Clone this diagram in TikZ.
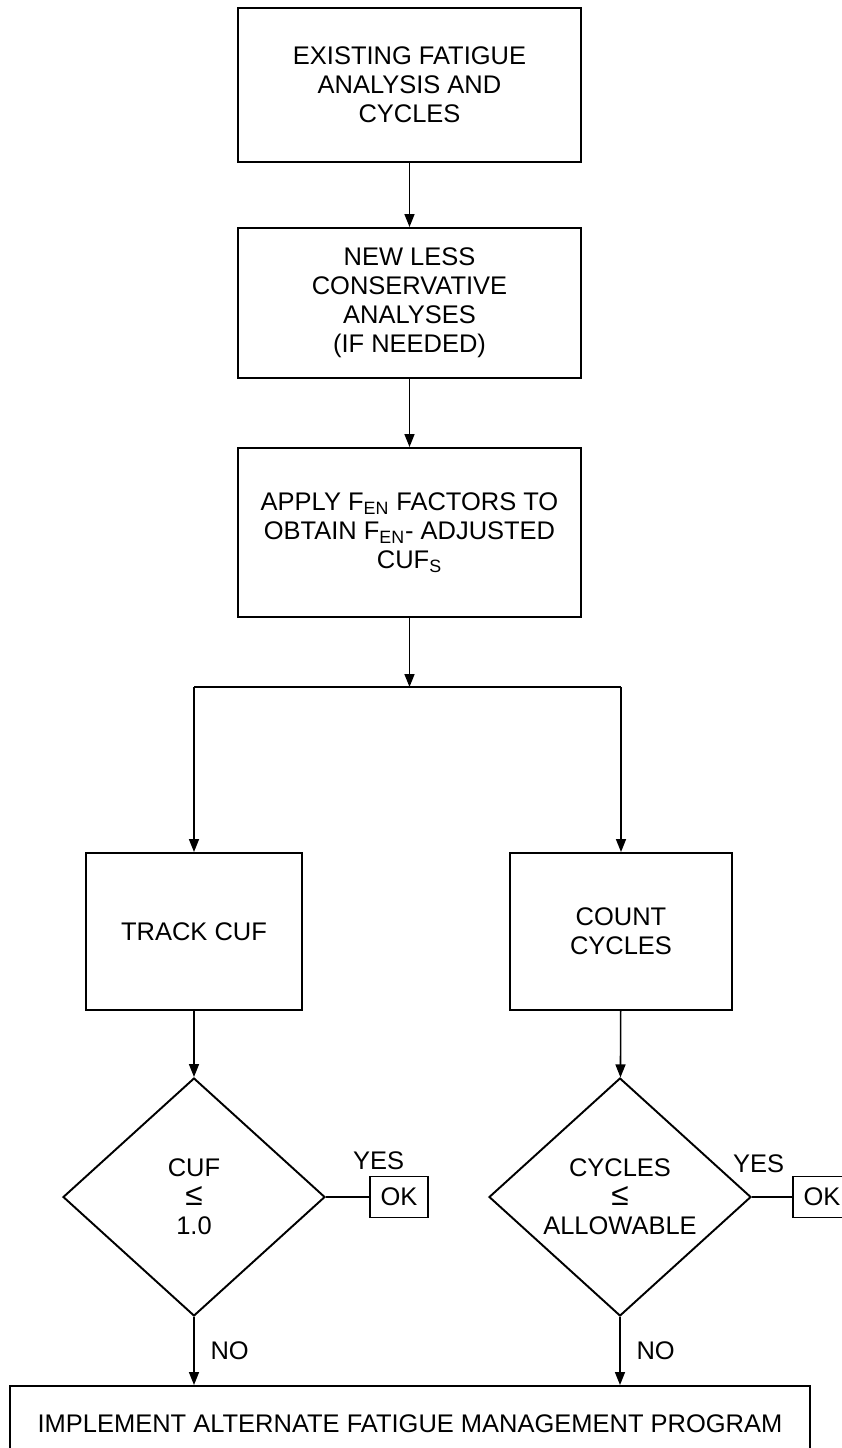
\documentclass[tikz,border=0pt]{standalone}
\usepackage{fontspec}
\setmainfont{Liberation Sans}
\usepackage{tikz}
\usetikzlibrary{positioning, arrows.meta, shapes.geometric}
\tikzset{
  pbox/.style={draw=black, line width=1.1pt, align=center, inner sep=2pt,
    font=\fontsize{14.5}{16.5}\selectfont},
  decbox/.style={diamond, draw=black, line width=1.1pt, align=center, inner sep=0pt,
    minimum width=5.24cm, minimum height=4.76cm, font=\fontsize{14.5}{16.5}\selectfont},
  okbox/.style={draw=black, line width=1.1pt, minimum width=1.16cm, minimum height=0.82cm,
    inner sep=0pt, font=\fontsize{14.5}{16.5}\selectfont},
  arr/.style={-{Triangle[length=0.26cm, width=0.2cm]}, line width=0.9pt},
  link/.style={line width=0.9pt},
  smalltxt/.style={font=\fontsize{14.5}{16.5}\selectfont, inner sep=1pt},
}
\newcommand{\smallle}{{\fontsize{18}{16.5}\selectfont ≤}}
\begin{document}
\begin{tikzpicture}
  \useasboundingbox (0,0) rectangle (16.84,-28.96);
  \node[pbox, minimum width=6.86cm, minimum height=3.08cm] (exist) at (8.19,-1.70)
    {EXISTING FATIGUE\\ANALYSIS AND\\CYCLES};
  \node[pbox, minimum width=6.86cm, minimum height=3.0cm] (newana) at (8.19,-6.06)
    {NEW LESS\\CONSERVATIVE\\ANALYSES\\(IF NEEDED)};
  \node[pbox, minimum width=6.86cm, minimum height=3.38cm] (apply) at (8.19,-10.65)
    {APPLY F\textsubscript{EN} FACTORS TO\\OBTAIN F\textsubscript{EN}- ADJUSTED\\CUF\textsubscript{S}};
  \coordinate (split) at (8.19,-13.74);
  \coordinate (splitL) at (3.88,-13.74);
  \coordinate (splitR) at (12.42,-13.74);
  \node[pbox, minimum width=4.32cm, minimum height=3.14cm] (track) at (3.88,-18.63) {TRACK CUF};
  \node[pbox, minimum width=4.44cm, minimum height=3.14cm] (count) at (12.42,-18.63) {COUNT\\CYCLES};
  \node[decbox] (cufdec) at (3.88,-23.94) {CUF\\\smallle\\1.0};
  \node[decbox] (cycdec) at (12.40,-23.94) {CYCLES\\\smallle\\ALLOWABLE};
  \node[okbox] (ok1) at (7.98,-23.94) {OK};
  \node[okbox] (ok2) at (16.44,-23.94) {OK};
  \node[pbox, minimum width=16.0cm, minimum height=1.52cm] (prog) at (8.20,-28.48)
    {IMPLEMENT ALTERNATE FATIGUE MANAGEMENT PROGRAM};

  \draw[arr] (exist) -- (newana);
  \draw[arr] (newana) -- (apply);
  \draw[arr] (apply) -- (split);
  \draw[link] (splitL) -- (splitR);
  \draw[arr] (splitL) -- (track);
  \draw[arr] (splitR) -- (count);
  \draw[arr] (track) -- (cufdec);
  \draw[arr] (count) -- (cycdec);
  \draw[link] (cufdec.east) -- (ok1);
  \draw[link] (cycdec.east) -- (ok2);
  \node[smalltxt, above right=0.5cm and 0.5cm of cufdec.east] (yes1) {YES};
  \node[smalltxt, above right=0.44cm and -0.42cm of cycdec.east] (yes2) {YES};
  \draw[arr] (cufdec.south) -- node[smalltxt, right=0.28cm] (no1) {NO} (cufdec.south |- prog.north);
  \draw[arr] (cycdec.south) -- node[smalltxt, right=0.28cm] (no2) {NO} (cycdec.south |- prog.north);
\end{tikzpicture}
\end{document}
